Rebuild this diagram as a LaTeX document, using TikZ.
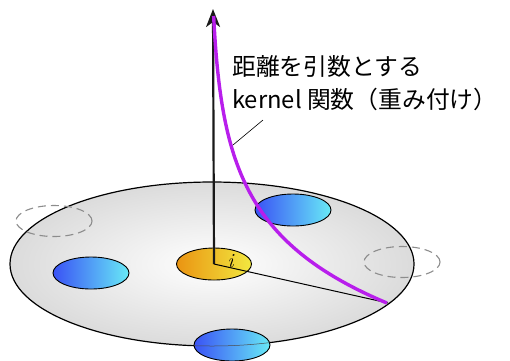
\documentclass[tikz,border=0pt]{standalone}
\usepackage{fontspec}
\usepackage{xcolor}
\usepackage{tikz}
\usetikzlibrary{arrows.meta, shapes.geometric}
\newfontfamily\cjk{Noto Sans CJK JP}
\definecolor{kblue}{RGB}{58,82,245}
\definecolor{kcyan}{RGB}{104,234,246}
\definecolor{korange}{RGB}{234,148,18}
\definecolor{kyellow}{RGB}{242,232,64}
\definecolor{kviolet}{RGB}{184,30,236}

\begin{document}
\begin{tikzpicture}[x=1pt,y=-1pt,
    blob/.style={ellipse,draw,line width=0.9pt,inner sep=0pt,
                 minimum width=76pt,minimum height=32pt,
                 left color=kblue,right color=kcyan},
    ghost/.style={ellipse,draw=gray!90,line width=1.1pt,inner sep=0pt,
                  dash pattern=on 8pt off 5pt,minimum width=76pt,minimum height=31pt}]
  \useasboundingbox (0,0) rectangle (510,360);
  % disk of neighbours
  \node[ellipse,draw,line width=1.2pt,inner sep=0pt,minimum width=404pt,
        minimum height=164pt,inner color=white,outer color=gray!28] (disk) at (212,264) {};
  \node[ghost] (g1) at (54,221) {};
  \node[ghost] (g2) at (402,262) {};
  \node[blob] (b1) at (293,210) {};
  \node[blob] (b2) at (91,273) {};
  \node[blob] (b3) at (232,345) {};
  \begin{scope}
    \clip (232,345) ellipse (38pt and 15pt);
    \draw[black!70,line width=0.5pt] (212,264) ellipse (202pt and 82pt);
  \end{scope}
  \node[ellipse,draw,line width=0.9pt,inner sep=0pt,minimum width=75pt,
        minimum height=32pt,left color=korange,right color=kyellow] (ctr) at (214,264) {};
  % axis, radius and kernel
  \coordinate (tip) at (213,9);
  \coordinate (rim) at (388,303);
  \draw[line width=2.2pt,black!90,-{Stealth[length=18pt,width=14pt,inset=5pt]}] (ctr.center) -- (tip);
  \draw[line width=1pt] (ctr.center) -- (rim);
  \draw[kviolet,line width=3.4pt] plot[domain=16:303,samples=80,variable=\t]
        ({210+exp((\t+80)/74)},\t);
  \node[font=\fontsize{20}{20}\selectfont] (lbl) at (231,261) {\textit{i}};
  \node[font=\cjk\fontsize{23.8}{33}\selectfont,align=left,anchor=north west,
        inner sep=0pt] (txt) at (232,55) {距離を引数とする\\kernel 関数（重み付け）};
  \coordinate (lead) at (263,120);
  \coordinate (kpt) at (233,145);
  \draw[line width=0.6pt] (lead) -- (kpt);
\end{tikzpicture}
\end{document}
